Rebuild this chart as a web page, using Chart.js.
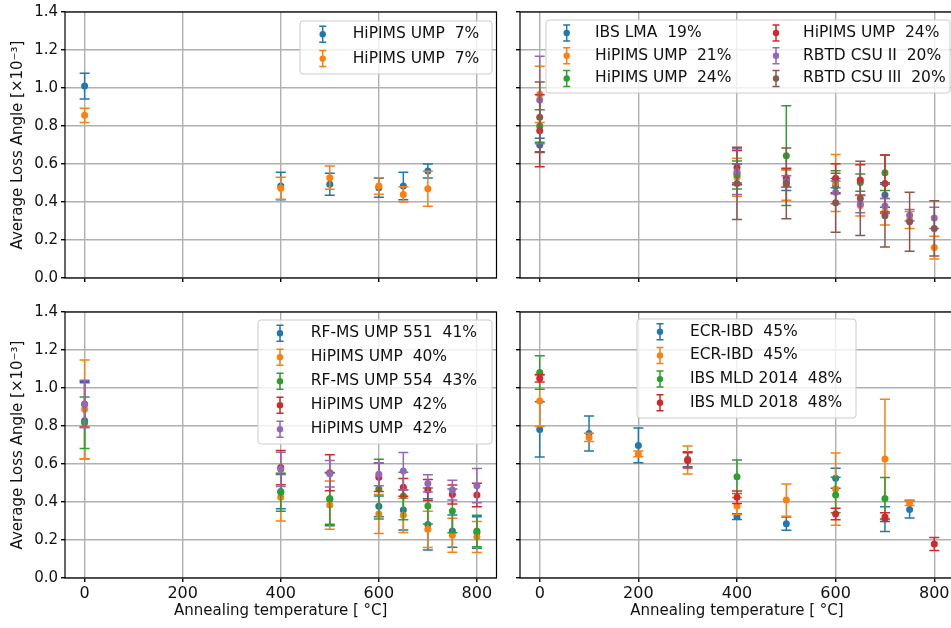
<!DOCTYPE html>
<html>
<head>
<meta charset="utf-8">
<script src="https://cdn.jsdelivr.net/npm/chart.js@4.4.1/dist/chart.umd.min.js"></script>
<style>
  html, body { margin: 0; padding: 0; background: #fff; overflow: hidden; }
  #wrap { position: relative; width: 951px; height: 628px; overflow: hidden; }
  #wrap canvas { position: absolute; display: block; }
</style>
</head>
<body>
<div id="wrap">
  <canvas id="tl" width="500" height="300" style="left:0;top:0"></canvas>
  <canvas id="tr" width="460" height="300" style="left:500px;top:0"></canvas>
  <canvas id="bl" width="500" height="328" style="left:0;top:300px"></canvas>
  <canvas id="br" width="460" height="328" style="left:500px;top:300px"></canvas>
</div>
<script>
// tick labels
const xTicks = [0, 200, 400, 600, 800];
const yTicks = [0, 0.2, 0.4, 0.6, 0.8, 1.0, 1.2, 1.4];

// top left
const tlTemps = [0, 400, 500, 600, 650, 700];
const tlLabels = ["HiPIMS UMP  7%", "HiPIMS UMP  7%"];
const tlA = [1.01, 0.484, 0.493, 0.475, 0.484, 0.563];
const tlAErr = [0.068, 0.072, 0.058, 0.05, 0.072, 0.037];
const tlB = [0.856, 0.472, 0.528, 0.484, 0.44, 0.47];
const tlBErr = [0.037, 0.058, 0.061, 0.043, 0.04, 0.092];

// top right
const trTemps = [0, 400, 500, 600, 650, 700, 750, 800];
const trLabels = ["IBS LMA  19%", "HiPIMS UMP  21%", "HiPIMS UMP  24%",
                  "HiPIMS UMP  24%", "RBTD CSU II  20%", "RBTD CSU III  20%"];
const trA = [0.70, 0.55, 0.516, 0.484, null, 0.437, null, null];
const trAErr = [0.035, 0.05, 0.055, 0.04, null, 0.064, null, null];
const trB = [0.967, 0.53, 0.489, 0.50, 0.381, 0.349, 0.305, 0.16];
const trBErr = [0.148, 0.1, 0.08, 0.15, 0.055, 0.07, 0.045, 0.06];
const trC = [0.80, 0.542, 0.644, 0.52, 0.502, 0.554, null, null];
const trCErr = [0.085, 0.074, 0.263, 0.045, 0.045, 0.094, null, null];
const trD = [0.775, 0.581, 0.528, 0.525, 0.516, 0.498, null, null];
const trDErr = [0.19, 0.09, 0.05, 0.076, 0.08, 0.15, null, null];
const trE = [0.937, 0.56, 0.508, 0.451, 0.389, 0.379, 0.33, 0.316];
const trEErr = [0.23, 0.12, 0.03, 0.06, 0.045, 0.04, 0.03, 0.056];
const trF = [0.846, 0.498, 0.498, 0.396, 0.419, 0.328, 0.296, 0.261];
const trFErr = [0.185, 0.19, 0.186, 0.155, 0.195, 0.165, 0.155, 0.145];

// bottom left
const blTemps = [0, 400, 500, 600, 650, 700, 750, 800];
const blLabels = ["RF-MS UMP 551  41%", "HiPIMS UMP  40%", "RF-MS UMP 554  43%",
                  "HiPIMS UMP  42%", "HiPIMS UMP  42%"];
const blA = [0.828, 0.455, 0.415, 0.377, 0.358, 0.282, 0.247, 0.24];
const blAErr = [0.2, 0.09, 0.14, 0.055, 0.105, 0.135, 0.085, 0.083];
const blB = [0.888, 0.425, 0.384, 0.337, 0.33, 0.256, 0.225, 0.216];
const blBErr = [0.26, 0.125, 0.127, 0.103, 0.09, 0.095, 0.09, 0.082];
const blC = [0.817, 0.451, 0.418, 0.468, 0.432, 0.379, 0.353, 0.247];
const blCErr = [0.135, 0.1, 0.135, 0.157, 0.125, 0.095, 0.115, 0.083];
const blD = [0.915, 0.581, 0.554, 0.53, 0.477, 0.463, 0.439, 0.437];
const blDErr = [0.12, 0.09, 0.095, 0.075, 0.047, 0.055, 0.05, 0.062];
const blE = [0.916, 0.572, 0.549, 0.546, 0.563, 0.498, 0.463, 0.486];
const blEErr = [0.125, 0.09, 0.07, 0.06, 0.098, 0.045, 0.052, 0.09];

// bottom right
const brTemps = [0, 100, 200, 300, 400, 500, 600, 700, 750, 800];
const brLabels = ["ECR-IBD  45%", "ECR-IBD  45%", "IBS MLD 2014  48%", "IBS MLD 2018  48%"];
const brA = [0.782, 0.761, 0.698, 0.625, 0.323, 0.286, 0.525, 0.31, 0.361, null];
const brAErr = [0.145, 0.092, 0.092, 0.04, 0.015, 0.035, 0.053, 0.065, 0.045, null];
const brB = [0.932, 0.74, 0.653, 0.621, 0.379, 0.41, 0.468, 0.626, 0.396, null];
const brBErr = [0.135, 0.022, 0.015, 0.074, 0.045, 0.085, 0.19, 0.315, 0.015, null];
const brC = [1.082, null, null, null, 0.533, null, 0.437, 0.419, null, null];
const brCErr = [0.088, null, null, null, 0.088, null, 0.093, 0.11, null, null];
const brD = [1.051, null, null, 0.619, 0.425, null, 0.337, 0.321, null, 0.179];
const brDErr = [0.02, null, null, 0.04, 0.033, null, 0.03, 0.023, null, 0.034];

const colors = ["#1f77b4", "#ff7f0e", "#2ca02c", "#d62728", "#9467bd", "#8c564b"];

Chart.defaults.font.family = "'DejaVu Sans', sans-serif";
Chart.defaults.color = "#000";

// error bars, drawn just before each dataset's points
const errorBars = {
  id: "errorBars",
  beforeDatasetDraw(chart, args) {
    const ds = chart.data.datasets[args.index];
    const ys = chart.scales.y;
    const ctx = chart.ctx;
    ctx.save();
    ctx.strokeStyle = ds.borderColor;
    ctx.lineWidth = 1.5;
    args.meta.data.forEach((pt, i) => {
      const d = ds.data[i];
      if (d.err == null) return;
      const top = ys.getPixelForValue(d.y + d.err);
      const bot = ys.getPixelForValue(d.y - d.err);
      ctx.beginPath();
      ctx.moveTo(pt.x, top); ctx.lineTo(pt.x, bot);
      ctx.moveTo(pt.x - 5, top); ctx.lineTo(pt.x + 5, top);
      ctx.moveTo(pt.x - 5, bot); ctx.lineTo(pt.x + 5, bot);
      ctx.stroke();
    });
    ctx.restore();
  }
};

// black frame + matplotlib-like legend
const frameLegend = {
  id: "frameLegend",
  afterDraw(chart, args, o) {
    const ctx = chart.ctx;
    const a = chart.chartArea;
    ctx.save();
    ctx.strokeStyle = "#000";
    ctx.lineWidth = 1.2;
    ctx.strokeRect(a.left, a.top, a.right - a.left, a.bottom - a.top);

    ctx.fillStyle = "rgba(255,255,255,0.8)";
    ctx.strokeStyle = "#cccccc";
    ctx.lineWidth = 1;
    ctx.beginPath();
    ctx.roundRect(o.box[0], o.box[1], o.box[2], o.box[3], 3);
    ctx.fill();
    ctx.stroke();

    ctx.font = "15.5px 'DejaVu Sans'";
    ctx.textBaseline = "middle";
    chart.data.datasets.forEach((ds, i) => {
      const col = o.cols[Math.floor(i / o.perCol)];
      const y = o.row0 + (i % o.perCol) * o.gap;
      ctx.strokeStyle = ds.borderColor;
      ctx.fillStyle = ds.borderColor;
      ctx.lineWidth = 1.5;
      ctx.beginPath();
      ctx.moveTo(col[0], y - 8); ctx.lineTo(col[0], y + 8);
      ctx.moveTo(col[0] - 3.5, y - 8); ctx.lineTo(col[0] + 3.5, y - 8);
      ctx.moveTo(col[0] - 3.5, y + 8); ctx.lineTo(col[0] + 3.5, y + 8);
      ctx.stroke();
      ctx.beginPath();
      ctx.arc(col[0], y, 3.2, 0, Math.PI * 2);
      ctx.fill();
      ctx.fillStyle = "#111";
      ctx.fillText(ds.label, col[1], y);
    });
    ctx.restore();
  }
};

function panel(id, temps, series, errs, labels, p) {
  const datasets = series.map((vals, k) => ({
    label: labels[k],
    data: temps.map((t, i) => ({ x: t, y: vals[i], err: errs[k][i] })).filter(d => d.y != null),
    backgroundColor: colors[k],
    borderColor: colors[k],
    pointRadius: 3.5,
    pointBorderWidth: 0,
    pointHoverRadius: 3.5,
    order: -k
  }));

  new Chart(document.getElementById(id).getContext("2d"), {
    type: "scatter",
    data: { datasets },
    plugins: [errorBars, frameLegend],
    options: {
      responsive: false,
      animation: false,
      layout: { padding: p.pad },
      plugins: {
        legend: { display: false },
        tooltip: { enabled: false },
        frameLegend: p.legend
      },
      scales: {
        x: {
          min: -40,
          max: 840,
          afterBuildTicks: s => { s.ticks = xTicks.map(v => ({ value: v })); },
          afterFit: s => { s.height = p.xh; },
          border: { display: false },
          grid: { color: "#b0b0b0", lineWidth: 1.4, tickColor: "#000", tickLength: 4 },
          ticks: {
            display: p.xlab,
            autoSkip: false,
            maxRotation: 0,
            padding: 2,
            color: "#111",
            font: { size: 16 }
          },
          title: {
            display: p.xlab,
            text: "Annealing temperature [ °C]",
            color: "#111",
            font: { size: 15 },
            padding: { top: 0, bottom: 8 }
          }
        },
        y: {
          min: 0,
          max: 1.4,
          afterBuildTicks: s => { s.ticks = yTicks.map(v => ({ value: v })); },
          afterFit: s => { s.width = p.yw; },
          border: { display: false },
          grid: { color: "#b0b0b0", lineWidth: 1.4, tickColor: "#000", tickLength: 4 },
          ticks: {
            display: p.ylab,
            autoSkip: false,
            padding: 3,
            color: "#111",
            font: { size: 15 },
            callback: v => v.toFixed(1)
          },
          title: {
            display: p.ylab,
            text: "Average Loss Angle [×10⁻³]",
            color: "#111",
            font: { size: 15 },
            padding: { top: 9, bottom: 0 }
          }
        }
      }
    }
  });
}

panel("tl", tlTemps, [tlA, tlB], [tlAErr, tlBErr], tlLabels, {
  pad: { top: 12, right: 3, left: 0, bottom: 0 }, xh: 22, yw: 65, xlab: false, ylab: true,
  legend: { box: [300, 21, 192, 53], row0: 34.3, gap: 24.3, perCol: 2, cols: [[322.7, 352.7]] }
});

panel("tr", trTemps, [trA, trB, trC, trD, trE, trF],
  [trAErr, trBErr, trCErr, trDErr, trEErr, trFErr], trLabels, {
  pad: { top: 12, right: 6, left: 0, bottom: 0 }, xh: 22, yw: 20, xlab: false, ylab: false,
  legend: { box: [46, 20, 404, 73], row0: 33, gap: 22.7, perCol: 3, cols: [[66.7, 95], [276, 303]] }
});

panel("bl", blTemps, [blA, blB, blC, blD, blE],
  [blAErr, blBErr, blCErr, blDErr, blEErr], blLabels, {
  pad: { top: 12, right: 3, left: 0, bottom: 0 }, xh: 50, yw: 65, xlab: true, ylab: true,
  legend: { box: [258, 20, 234, 124], row0: 33.3, gap: 24, perCol: 5, cols: [[280, 310.7]] }
});

panel("br", brTemps, [brA, brB, brC, brD], [brAErr, brBErr, brCErr, brDErr], brLabels, {
  pad: { top: 12, right: 6, left: 0, bottom: 0 }, xh: 50, yw: 20, xlab: true, ylab: false,
  legend: { box: [137, 19, 219, 99], row0: 31.7, gap: 23.7, perCol: 4, cols: [[160, 190]] }
});
</script>
</body>
</html>
